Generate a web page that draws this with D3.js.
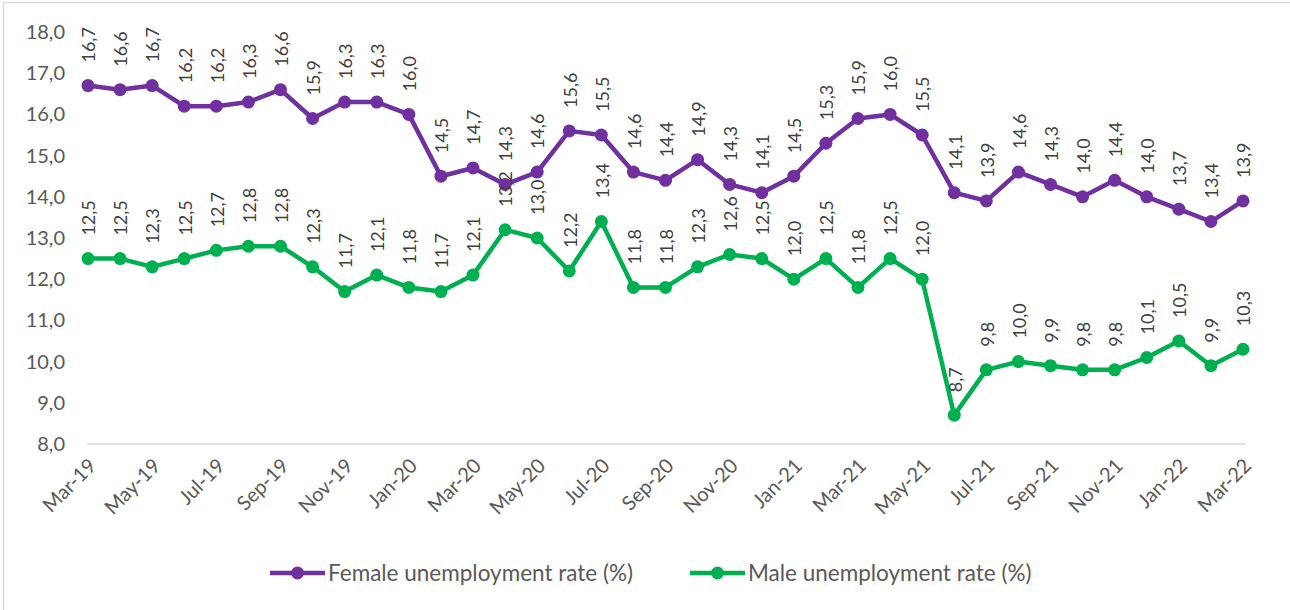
<!DOCTYPE html>
<html>
<head>
<meta charset="utf-8">
<script src="https://cdn.jsdelivr.net/npm/d3@7"></script>
<style>
  html, body { margin: 0; padding: 0; background: #fff; }
  svg { display: block; }
  text { font-family: Lato, "Open Sans", sans-serif; }
</style>
</head>
<body>
<svg id="chart" width="1290" height="610"></svg>
<script>
const months = ["Mar-19","Apr-19","May-19","Jun-19","Jul-19","Aug-19","Sep-19","Oct-19","Nov-19","Dec-19",
  "Jan-20","Feb-20","Mar-20","Apr-20","May-20","Jun-20","Jul-20","Aug-20","Sep-20","Oct-20","Nov-20","Dec-20",
  "Jan-21","Feb-21","Mar-21","Apr-21","May-21","Jun-21","Jul-21","Aug-21","Sep-21","Oct-21","Nov-21","Dec-21",
  "Jan-22","Feb-22","Mar-22"];
const femaleRate = [16.7,16.6,16.7,16.2,16.2,16.3,16.6,15.9,16.3,16.3,16.0,14.5,14.7,14.3,14.6,15.6,15.5,14.6,14.4,14.9,14.3,14.1,14.5,15.3,15.9,16.0,15.5,14.1,13.9,14.6,14.3,14.0,14.4,14.0,13.7,13.4,13.9];
const maleRate = [12.5,12.5,12.3,12.5,12.7,12.8,12.8,12.3,11.7,12.1,11.8,11.7,12.1,13.2,13.0,12.2,13.4,11.8,11.8,12.3,12.6,12.5,12.0,12.5,11.8,12.5,12.0,8.7,9.8,10.0,9.9,9.8,9.8,10.1,10.5,9.9,10.3];
const yTicks = [8,9,10,11,12,13,14,15,16,17,18];
const xTickLabels = months.filter((d,i) => i % 2 === 0);
const seriesNames = ["Female unemployment rate (%)", "Male unemployment rate (%)"];
const seriesColors = ["#7030A0", "#00B050"];

const svg = d3.select("#chart");
const fmt = v => v.toFixed(1).replace(".", ",");

// outer frame
svg.append("rect").attr("x", 3.5).attr("y", 2.5).attr("width", 1300).attr("height", 700)
  .attr("fill", "none").attr("stroke", "#d9d9d9").attr("stroke-width", 1.5);

const x = d3.scalePoint().domain(months).range([88, 1243]);
const y = d3.scaleLinear().domain([8, 18]).range([444, 32]);

// baseline gridline
svg.append("line").attr("x1", 87).attr("x2", 1245).attr("y1", y(8)).attr("y2", y(8))
  .attr("stroke", "#d9d9d9").attr("stroke-width", 1.5);

// y axis labels
const yAxis = d3.axisLeft(y).tickValues(yTicks).tickFormat(fmt).tickSize(0).tickPadding(0);
const yg = svg.append("g").attr("transform", "translate(65,0)").call(yAxis);
yg.select(".domain").remove();
yg.selectAll("text").attr("font-size", 20).attr("fill", "#595959").style("font-family", "Lato, sans-serif");

// x axis labels
const xAxis = d3.axisBottom(x).tickValues(xTickLabels).tickSize(0).tickPadding(0);
const xg = svg.append("g").attr("transform", "translate(0,455)").call(xAxis);
xg.select(".domain").remove();
xg.selectAll("text")
  .attr("font-size", 20).attr("fill", "#595959").style("font-family", "Lato, sans-serif")
  .attr("text-anchor", "end").attr("dy", 0).attr("y", 0)
  .attr("transform", "translate(9,12) rotate(-45)");

const series = [femaleRate, maleRate];
const line = d3.line().x((d,i) => x(months[i])).y(d => y(d));

series.forEach((vals, s) => {
  const g = svg.append("g");
  g.append("path").datum(vals).attr("d", line).attr("fill", "none")
    .attr("stroke", seriesColors[s]).attr("stroke-width", 4.5).attr("stroke-linejoin", "round");
  g.selectAll("circle").data(vals).join("circle")
    .attr("cx", (d,i) => x(months[i])).attr("cy", d => y(d)).attr("r", 6.5)
    .attr("fill", seriesColors[s]);
  g.selectAll("text.lbl").data(vals).join("text").attr("class", "lbl")
    .attr("transform", (d,i) => `translate(${x(months[i]) + 1},${y(d) - 23}) rotate(-90)`)
    .attr("text-anchor", "start").attr("dy", "0.35em")
    .attr("font-size", 18).attr("fill", "#404040")
    .text(d => fmt(d));
});

// legend
const legendItems = [{x: 270}, {x: 690}];
legendItems.forEach((it, s) => {
  const g = svg.append("g").attr("transform", `translate(${it.x},573)`);
  g.append("line").attr("x1", 0).attr("x2", 55).attr("y1", 0).attr("y2", 0)
    .attr("stroke", seriesColors[s]).attr("stroke-width", 4.5);
  g.append("circle").attr("cx", 27.5).attr("cy", 0).attr("r", 6.5).attr("fill", seriesColors[s]);
  g.append("text").attr("x", 58).attr("y", 0).attr("dy", "0.35em")
    .attr("font-size", 22.5).attr("fill", "#595959").text(seriesNames[s]);
});
</script>
</body>
</html>
